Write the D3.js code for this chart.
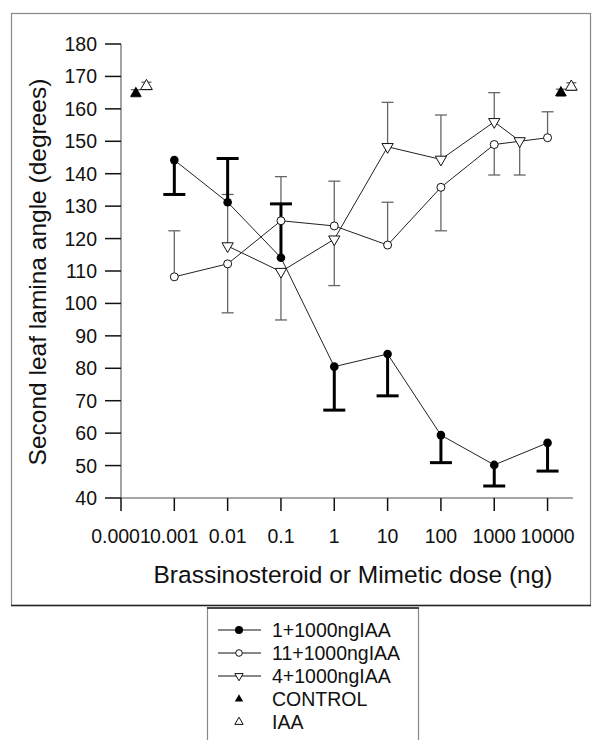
<!DOCTYPE html>
<html>
<head>
<meta charset="utf-8">
<script src="https://cdn.jsdelivr.net/npm/d3@7"></script>
<style>
  body { margin: 0; background: #fff; }
  svg { font-family: "Liberation Sans", Arial, sans-serif; }
</style>
</head>
<body>
<svg id="chart" width="592" height="740"></svg>
<script>
// dose values (ng) and tick labels
const doseTicks = [0.0001, 0.001, 0.01, 0.1, 1, 10, 100, 1000, 10000];
const doseTickLabels = ['0.0001', '0.001', '0.01', '0.1', '1', '10', '100', '1000', '10000'];
const angleTicks = [40, 50, 60, 70, 80, 90, 100, 110, 120, 130, 140, 150, 160, 170, 180];

// 1+1000ngIAA (filled circles)
const s1Dose = [0.001, 0.01, 0.1, 1, 10, 100, 1000, 10000];
const s1Mean = [144.2, 131.2, 114.1, 80.5, 84.4, 59.4, 50.2, 57.0];
const s1Err = [133.6, 144.7, 130.7, 67.1, 71.5, 50.9, 43.7, 48.3];

// 11+1000ngIAA (open circles)
const s11Dose = [0.001, 0.01, 0.1, 1, 10, 100, 1000, 10000];
const s11Mean = [108.2, 112.2, 125.5, 123.9, 118.0, 135.8, 149.0, 151.1];
const s11Err = [122.4, 97.1, 139.1, 137.7, 131.2, 122.4, 139.6, 159.1];

// 4+1000ngIAA (open down triangles)
const s4Dose = [0.01, 0.1, 1, 10, 100, 1000, 3000];
const s4Mean = [117.7, 109.8, 119.8, 148.3, 144.4, 156.0, 150.1];
const s4Err = [133.6, 94.9, 105.5, 162.0, 158.1, 165.0, 139.6];

// CONTROL and IAA references (drawn at both ends)
const controlDose = [0.00019, 17800];
const controlMean = [164.8, 165.0];
const iaaDose = [0.0003, 27900];
const iaaMean = [167.0, 166.8];

const legendLabels = ['1+1000ngIAA', '11+1000ngIAA', '4+1000ngIAA', 'CONTROL', 'IAA'];

const svg = d3.select('#chart');
const fs = 19.5;

// frames
svg.append('rect').attr('x', 11.5).attr('y', 13.5).attr('width', 579).attr('height', 592)
  .attr('fill', 'none').attr('stroke', '#888').attr('stroke-width', 1.2);
svg.append('line').attr('x1', 11).attr('x2', 591).attr('y1', 605.5).attr('y2', 605.5)
  .attr('stroke', '#222').attr('stroke-width', 1.5);

const x = d3.scaleLog().domain([0.0001, 30000]).range([121, 573]);
const y = d3.scaleLinear().domain([40, 180]).range([498, 44]);

// axes
const gx = svg.append('g').attr('transform', 'translate(0,498)');
gx.append('line').attr('x1', 121).attr('x2', 573).attr('stroke', '#888').attr('stroke-width', 1.5);
gx.selectAll('.xt').data(doseTicks).join('line')
  .attr('x1', d => x(d)).attr('x2', d => x(d)).attr('y1', 0).attr('y2', 13)
  .attr('stroke', '#111').attr('stroke-width', 1.5);
gx.selectAll('.xl').data(doseTicks).join('text')
  .attr('x', d => x(d)).attr('y', 45)
  .attr('text-anchor', 'middle').attr('font-size', fs).attr('fill', '#111')
  .text((d, i) => doseTickLabels[i]);

const gy = svg.append('g').attr('transform', 'translate(121,0)');
gy.append('line').attr('y1', 44).attr('y2', 498).attr('stroke', '#666').attr('stroke-width', 1.2);
gy.selectAll('.yt').data(angleTicks).join('line')
  .attr('x1', -16).attr('x2', 0).attr('y1', d => y(d)).attr('y2', d => y(d))
  .attr('stroke', '#111').attr('stroke-width', 1.5);
gy.selectAll('.yl').data(angleTicks).join('text')
  .attr('x', -24).attr('y', d => y(d)).attr('dy', '0.36em')
  .attr('text-anchor', 'end').attr('font-size', fs).attr('fill', '#111')
  .text(d => d);

svg.append('text').attr('transform', 'translate(46,272) rotate(-90)')
  .attr('text-anchor', 'middle').attr('font-size', 24.5).attr('fill', '#111')
  .text('Second leaf lamina angle (degrees)');
svg.append('text').attr('x', 353).attr('y', 583)
  .attr('text-anchor', 'middle').attr('font-size', 24.5).attr('fill', '#111')
  .text('Brassinosteroid or Mimetic dose (ng)');

// error bars
function errorBars(doses, means, errs, color, width, cap) {
  const g = svg.append('g');
  doses.forEach((d, i) => {
    g.append('line').attr('x1', x(d)).attr('x2', x(d))
      .attr('y1', y(means[i])).attr('y2', y(errs[i]))
      .attr('stroke', color).attr('stroke-width', width);
    g.append('line').attr('x1', x(d) - cap).attr('x2', x(d) + cap)
      .attr('y1', y(errs[i])).attr('y2', y(errs[i]))
      .attr('stroke', color).attr('stroke-width', width);
  });
}
errorBars(s11Dose, s11Mean, s11Err, '#666', 1.3, 6);
errorBars(s4Dose, s4Mean, s4Err, '#666', 1.3, 6);
errorBars(s1Dose, s1Mean, s1Err, '#000', 3, 11);

const line = (ds, ms) => d3.line()(ds.map((d, i) => [x(d), y(ms[i])]));
svg.append('path').attr('d', line(s4Dose, s4Mean)).attr('fill', 'none').attr('stroke', '#222').attr('stroke-width', 1);
svg.append('path').attr('d', line(s11Dose, s11Mean)).attr('fill', 'none').attr('stroke', '#222').attr('stroke-width', 1);
svg.append('path').attr('d', line(s1Dose, s1Mean)).attr('fill', 'none').attr('stroke', '#222').attr('stroke-width', 1);

const triDown = d3.symbol().type(d3.symbolTriangle).size(55);
const triUp = d3.symbol().type(d3.symbolTriangle).size(60);

svg.selectAll('.m4').data(s4Dose).join('path')
  .attr('d', triDown)
  .attr('transform', (d, i) => `translate(${x(d)},${y(s4Mean[i])}) rotate(180)`)
  .attr('fill', '#fff').attr('stroke', '#111').attr('stroke-width', 1);
svg.selectAll('.m11').data(s11Dose).join('circle')
  .attr('cx', d => x(d)).attr('cy', (d, i) => y(s11Mean[i])).attr('r', 4)
  .attr('fill', '#fff').attr('stroke', '#111').attr('stroke-width', 1);
svg.selectAll('.m1').data(s1Dose).join('circle')
  .attr('cx', d => x(d)).attr('cy', (d, i) => y(s1Mean[i])).attr('r', 4.3)
  .attr('fill', '#000');

// control / IAA
controlDose.forEach((d, i) => {
  svg.append('line').attr('x1', x(d) - 5).attr('x2', x(d) + 5)
    .attr('y1', y(controlMean[i]) - 3.5).attr('y2', y(controlMean[i]) - 3.5).attr('stroke', '#333');
  svg.append('line').attr('x1', x(d) - 5).attr('x2', x(d) + 5)
    .attr('y1', y(controlMean[i]) + 3.5).attr('y2', y(controlMean[i]) + 3.5).attr('stroke', '#333');
});
iaaDose.forEach((d, i) => {
  svg.append('line').attr('x1', x(d) - 5).attr('x2', x(d) + 5)
    .attr('y1', y(iaaMean[i]) - 4).attr('y2', y(iaaMean[i]) - 4).attr('stroke', '#333');
  svg.append('line').attr('x1', x(d) - 5).attr('x2', x(d) + 5)
    .attr('y1', y(iaaMean[i]) + 3.5).attr('y2', y(iaaMean[i]) + 3.5).attr('stroke', '#333');
});
svg.selectAll('.mc').data(controlDose).join('path')
  .attr('d', triUp)
  .attr('transform', (d, i) => `translate(${x(d)},${y(controlMean[i])})`)
  .attr('fill', '#000');
svg.selectAll('.mi').data(iaaDose).join('path')
  .attr('d', triUp)
  .attr('transform', (d, i) => `translate(${x(d)},${y(iaaMean[i])})`)
  .attr('fill', '#fff').attr('stroke', '#111').attr('stroke-width', 1);

// legend
const lg = svg.append('g');
lg.append('rect').attr('x', 207.5).attr('y', 608).attr('width', 211).attr('height', 140)
  .attr('fill', '#fff').attr('stroke', '#888').attr('stroke-width', 1.2);
lg.append('line').attr('x1', 207).attr('x2', 419).attr('y1', 608).attr('y2', 608)
  .attr('stroke', '#222').attr('stroke-width', 1.5);

const rowY = i => 630 + i * 23;
legendLabels.forEach((t, i) => {
  lg.append('text').attr('x', 272).attr('y', rowY(i)).attr('dy', '0.36em')
    .attr('font-size', fs).attr('fill', '#111').text(t);
  if (i < 3) {
    lg.append('line').attr('x1', 218).attr('x2', 261).attr('y1', rowY(i)).attr('y2', rowY(i))
      .attr('stroke', '#111').attr('stroke-width', 1);
  }
});
lg.append('circle').attr('cx', 239).attr('cy', rowY(0)).attr('r', 4).attr('fill', '#000');
lg.append('circle').attr('cx', 239).attr('cy', rowY(1)).attr('r', 3.3).attr('fill', '#fff').attr('stroke', '#111');
lg.append('path').attr('d', d3.symbol().type(d3.symbolTriangle).size(30))
  .attr('transform', `translate(239,${rowY(2)}) rotate(180)`).attr('fill', '#fff').attr('stroke', '#111');
lg.append('path').attr('d', d3.symbol().type(d3.symbolTriangle).size(30))
  .attr('transform', `translate(239,${rowY(3)})`).attr('fill', '#000');
lg.append('path').attr('d', d3.symbol().type(d3.symbolTriangle).size(30))
  .attr('transform', `translate(239,${rowY(4)})`).attr('fill', '#fff').attr('stroke', '#111');
</script>
</body>
</html>
